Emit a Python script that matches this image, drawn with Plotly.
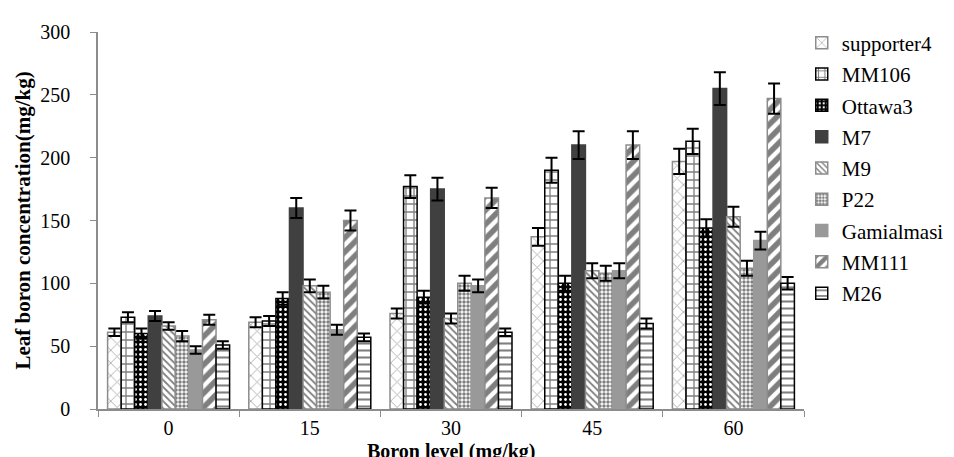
import plotly.graph_objects as go

levels = ["0", "15", "30", "45", "60"]
series = ["supporter4", "MM106", "Ottawa3", "M7", "M9", "P22", "Gamialmasi", "MM111", "M26"]

supporter4 = [61, 69, 76, 137, 197]
mm106 = [73, 70, 177, 190, 213]
ottawa3 = [60, 88, 89, 100, 144]
m7 = [74, 160, 175, 210, 255]
m9 = [66, 98, 72, 110, 153]
p22 = [58, 93, 100, 108, 112]
gamialmasi = [47, 63, 98, 110, 134]
mm111 = [71, 150, 168, 210, 247]
m26 = [51, 57, 61, 68, 100]

err_supporter4 = [3, 4, 4, 7, 10]
err_mm106 = [4, 4, 9, 10, 10]
err_ottawa3 = [4, 5, 5, 6, 7]
err_m7 = [4, 8, 9, 11, 13]
err_m9 = [3, 5, 4, 6, 8]
err_p22 = [4, 5, 6, 6, 6]
err_gamialmasi = [3, 4, 5, 6, 7]
err_mm111 = [4, 8, 8, 11, 12]
err_m26 = [3, 3, 3, 4, 5]

values = [supporter4, mm106, ottawa3, m7, m9, p22, gamialmasi, mm111, m26]
errors = [err_supporter4, err_mm106, err_ottawa3, err_m7, err_m9, err_p22,
          err_gamialmasi, err_mm111, err_m26]

FONT = "Liberation Serif"
x_title = "Boron level (mg/kg)"
y_title = "Leaf boron concentration(mg/kg)"

styles = [
    dict(color="white", line="#8c8c8c", shape="x", fg="#606060", size=9, sol=0.2, mode="overlay"),
    dict(color="white", line="black", shape="+", fg="black", size=8, sol=0.3, mode="overlay"),
    dict(color="black", line="black", shape=".", fg="white", size=5, sol=0.25, mode="replace"),
    dict(color="#404040", line="#404040", shape="", fg="black", size=8, sol=0.3, mode="overlay"),
    dict(color="white", line="#8c8c8c", shape="\\", fg="black", size=5, sol=0.35, mode="overlay"),
    dict(color="white", line="#8c8c8c", shape=".", fg="black", size=4, sol=0.6, mode="overlay"),
    dict(color="#999999", line="#999999", shape="", fg="black", size=8, sol=0.3, mode="overlay"),
    dict(color="white", line="#8c8c8c", shape="/", fg="black", size=10, sol=0.55, mode="overlay"),
    dict(color="white", line="black", shape="-", fg="black", size=7, sol=0.3, mode="overlay"),
]

fig = go.Figure()
for name, vals, errs, st in zip(series, values, errors, styles):
    pattern = dict(shape=st["shape"], fgcolor=st["fg"], bgcolor=st["color"],
                   size=st["size"], solidity=st["sol"], fillmode=st["mode"])
    fig.add_trace(go.Bar(
        name=name, x=levels, y=vals,
        marker=dict(color=st["color"], line=dict(color=st["line"], width=1.5),
                    pattern=pattern),
        error_y=dict(type="data", array=errs, color="black", thickness=2, width=6),
        legendgroup=name,
    ))

fig.update_layout(
    width=954, height=457,
    margin=dict(l=90, r=158, t=24, b=56, autoexpand=False),
    paper_bgcolor="white", plot_bgcolor="white",
    barmode="group", bargap=0.136, bargroupgap=0,
    font=dict(family=FONT, size=20, color="black"),
    legend=dict(xref="container", yref="container", x=0.832, y=0.968,
                xanchor="left", yanchor="top",
                font=dict(family=FONT, size=21, color="black"),
                tracegroupgap=1, itemwidth=30, maxheight=1.0,
                bgcolor="rgba(0,0,0,0)"),
    showlegend=True,
    annotations=[dict(
        text="<b>" + x_title + "</b>", xref="paper", yref="paper",
        x=0.5, y=-0.146, xanchor="center", yanchor="bottom", showarrow=False,
        font=dict(family=FONT, size=20, color="black"), borderpad=0,
    )],
)
fig.update_xaxes(
    showline=True, linecolor="#8c8c8c", linewidth=1.5,
    ticks="outside", tickson="boundaries", tickcolor="#8c8c8c", ticklen=6,
    tickfont=dict(family=FONT, size=20),
)
fig.update_yaxes(
    range=[0, 300], dtick=50, showgrid=False, zeroline=False,
    showline=True, linecolor="#8c8c8c", linewidth=1.5,
    ticks="outside", tickcolor="#8c8c8c", ticklen=6, ticklabelstandoff=16,
    title=dict(text="<b>" + y_title + "</b>", font=dict(family=FONT, size=21), standoff=4),
    tickfont=dict(family=FONT, size=20),
)

fig.write_html("out.html")
